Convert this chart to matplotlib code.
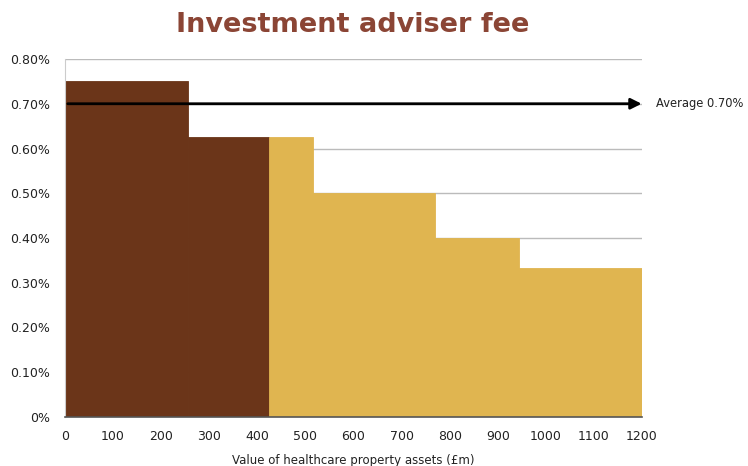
import matplotlib
matplotlib.use("Agg")
import matplotlib.pyplot as plt
import numpy as np

# step edges of the fee scale (GBP m) and fee rate (%)
edges = [0, 255, 425, 515, 770, 945, 1200]
fees = [0.75, 0.625, 0.625, 0.50, 0.40, 0.333]
colors = ["#6B3519", "#6B3519", "#E0B550", "#E0B550", "#E0B550", "#E0B550"]
average = 0.70
xticks = list(range(0, 1300, 100))
yticks = [0, 0.1, 0.2, 0.3, 0.4, 0.5, 0.6, 0.7, 0.8]
ylabels = ["0%", "0.10%", "0.20%", "0.30%", "0.40%", "0.50%", "0.60%", "0.70%", "0.80%"]

fig = plt.figure(figsize=(7.48, 4.66), dpi=100)
ax = fig.add_axes([65/748, 49/466, 577/748, 358/466])

widths = np.diff(edges)
ax.bar(edges[:-1], fees, width=widths, align="edge", color=colors,
       edgecolor=colors, linewidth=0.6, zorder=2)

ax.set_xlim(0, 1200)
ax.set_ylim(0, 0.8)
ax.set_yticks(yticks)
ax.set_yticklabels(ylabels, fontsize=9, color="#222222")
ax.set_xticks(xticks)
ax.set_xticklabels([str(x) for x in xticks], fontsize=9, color="#222222")
ax.tick_params(axis="both", length=0)
ax.tick_params(axis="y", pad=11)
ax.tick_params(axis="x", pad=9)
ax.yaxis.grid(True, color="#BBBBBB", linewidth=1, zorder=0)
ax.set_axisbelow(True)
for s in ["top", "right"]:
    ax.spines[s].set_visible(False)
ax.spines["left"].set_color("#CCCCCC")
ax.spines["bottom"].set_color("#555555")
ax.spines["bottom"].set_linewidth(1.2)

# average line with arrow
ax.annotate("", xy=(1205, average), xytext=(0, average),
            arrowprops=dict(arrowstyle="-|>", color="black", lw=2, mutation_scale=16),
            annotation_clip=False, zorder=3)
ax.text(1230, average, "Average 0.70%", fontsize=8.3, va="center", ha="left",
        color="#222222", clip_on=False)

ax.set_xlabel("Value of healthcare property assets (\u00a3m)", fontsize=8.5,
              color="#222222", labelpad=8)
fig.suptitle("Investment adviser fee", fontsize=19.5, fontweight="bold",
             color="#8B4535", x=353/748, y=0.975)

fig.savefig("out.png", dpi=100)
